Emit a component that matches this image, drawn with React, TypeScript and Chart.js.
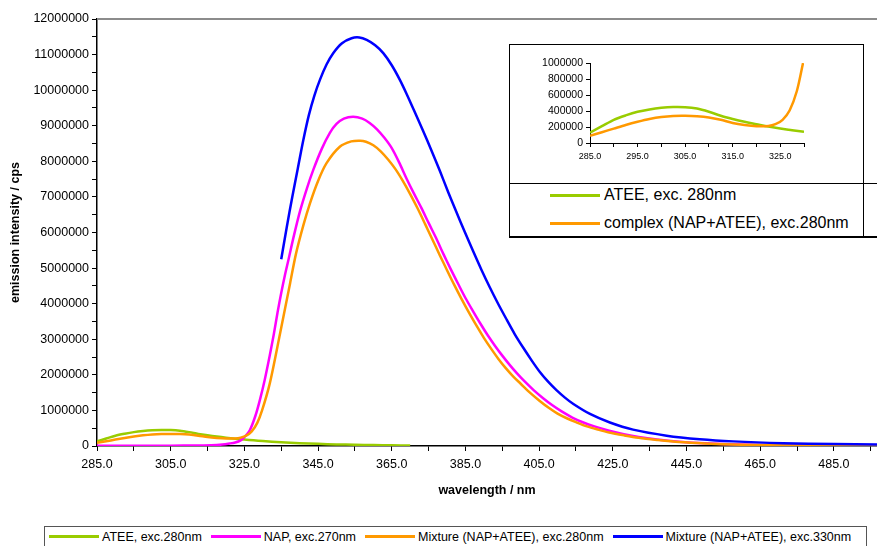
import React, { useEffect, useRef } from "react";
import { Chart, registerables } from "chart.js";

Chart.register(...registerables);

const FONT = "'Liberation Sans', Arial, Helvetica, sans-serif";

// ---- data ----
const seriesLabels = [
  "ATEE, exc.280nm",
  "NAP, exc.270nm",
  "Mixture (NAP+ATEE), exc.280nm",
  "Mixture (NAP+ATEE), exc.330nm",
];
const seriesColors = ["#99CC00", "#FF00FF", "#FF9900", "#0000FF"];

const insetLabels = ["ATEE, exc. 280nm", "complex (NAP+ATEE), exc.280nm"];

const ateeWavelength = [285, 287.5, 290, 292.5, 295, 297.5, 300, 302.5, 305, 307.5, 310, 312.5, 315, 317.5, 320, 322.5, 325, 327.5, 330, 335, 340, 345, 350, 355, 360, 365, 370];
const ateeIntensity = [130000, 210000, 290000, 345000, 390000, 420000, 440000, 450000, 448000, 430000, 390000, 340000, 300000, 265000, 235000, 205000, 180000, 160000, 140000, 105000, 80000, 60000, 45000, 35000, 25000, 18000, 12000];

const napWavelength = [285, 295, 305, 312, 316, 319, 321, 322.5, 324, 325, 326.5, 328, 329.2, 330.5, 331.9, 333, 334, 335, 336, 337, 338.3, 340.1, 342, 343.7, 346, 348.2, 350, 352, 354.5, 357, 359, 361, 363, 365, 367, 369, 371, 373, 375, 377, 379, 381, 383, 385, 387, 389, 391, 393, 395, 397, 399, 401, 403.5, 406, 408.5, 411, 414, 417, 420, 424, 428, 432, 437, 443, 450, 460, 470, 480, 490, 496.7];
const napIntensity = [10000, 10000, 10000, 15000, 20000, 40000, 70000, 100000, 160000, 250000, 450000, 850000, 1290000, 1850000, 2550000, 3150000, 3750000, 4300000, 4800000, 5250000, 5850000, 6600000, 7250000, 7760000, 8350000, 8800000, 9050000, 9200000, 9250000, 9200000, 9080000, 8900000, 8660000, 8370000, 7970000, 7520000, 7100000, 6700000, 6270000, 5850000, 5400000, 4970000, 4560000, 4160000, 3800000, 3450000, 3120000, 2820000, 2540000, 2280000, 2040000, 1820000, 1570000, 1350000, 1150000, 980000, 800000, 660000, 550000, 430000, 330000, 250000, 180000, 120000, 75000, 40000, 25000, 15000, 10000, 8000];

const mix280Wavelength = [285, 287.5, 290, 292.5, 295, 297.5, 300, 302.5, 305, 307.5, 310, 312.5, 315, 317.5, 320, 322.5, 324, 325.5, 327, 328.5, 329.8, 331.9, 334.7, 337.4, 339, 341, 342.8, 345, 347.3, 350.9, 354, 356.4, 358, 360, 362, 364, 366, 368, 370, 372, 374, 376, 378, 380, 382, 384, 386, 388, 390, 392, 394, 396, 398, 400, 402.5, 405, 407.5, 410, 412.5, 415, 418, 421, 424, 428, 432, 437, 443, 450, 460, 470, 480, 490, 496.7];
const mix280Intensity = [90000, 135000, 180000, 225000, 265000, 300000, 325000, 338000, 340000, 335000, 320000, 290000, 250000, 225000, 210000, 212000, 235000, 290000, 410000, 650000, 1000000, 1760000, 3170000, 4570000, 5400000, 6200000, 6820000, 7450000, 7950000, 8410000, 8560000, 8580000, 8550000, 8450000, 8280000, 8050000, 7780000, 7450000, 7080000, 6680000, 6250000, 5810000, 5370000, 4940000, 4520000, 4120000, 3740000, 3380000, 3040000, 2730000, 2440000, 2180000, 1950000, 1750000, 1500000, 1280000, 1080000, 910000, 780000, 670000, 550000, 460000, 380000, 300000, 230000, 170000, 110000, 70000, 35000, 20000, 12000, 8000, 5000];

const mix330Wavelength = [335, 336.5, 338, 339.5, 341, 342.5, 344, 345.5, 347.3, 349.1, 351.5, 354.1, 356.2, 358.2, 360.5, 362.7, 365, 367.2, 369.1, 371, 373.4, 375.8, 378.1, 380.3, 382.6, 384.8, 387.1, 389.3, 391.6, 393.9, 396.2, 398.4, 400.7, 403, 405.2, 407.5, 409.7, 412, 414.3, 418.8, 424.2, 430.5, 439.6, 448.6, 457.7, 471.2, 485, 496.7];
const mix330Intensity = [5250000, 6150000, 7000000, 7800000, 8600000, 9300000, 9850000, 10290000, 10720000, 11040000, 11320000, 11460000, 11480000, 11410000, 11260000, 11040000, 10700000, 10290000, 9880000, 9440000, 8880000, 8300000, 7720000, 7140000, 6560000, 6020000, 5470000, 4960000, 4460000, 3990000, 3550000, 3140000, 2760000, 2400000, 2080000, 1800000, 1570000, 1360000, 1180000, 900000, 660000, 460000, 290000, 190000, 130000, 80000, 55000, 40000];

const xMin = 285;
const xMax = 496.7;
const xTickValues = [285, 295, 305, 315, 325, 335, 345, 355, 365, 375, 385, 395, 405, 415, 425, 435, 445, 455, 465, 475, 485, 495];
const yTickValues = [0, 500000, 1000000, 1500000, 2000000, 2500000, 3000000, 3500000, 4000000, 4500000, 5000000, 5500000, 6000000, 6500000, 7000000, 7500000, 8000000, 8500000, 9000000, 9500000, 10000000, 10500000, 11000000, 11500000, 12000000];

const insetXMax = 330;
const insetXTickValues = [285, 290, 295, 300, 305, 310, 315, 320, 325, 330];
const insetYTickValues = [0, 200000, 400000, 600000, 800000, 1000000];

const toPoints = (xs: number[], ys: number[], maxX = Infinity) =>
  xs.map((x, i) => ({ x, y: ys[i] })).filter((p) => p.x <= maxX);

const seriesData = [
  toPoints(ateeWavelength, ateeIntensity),
  toPoints(napWavelength, napIntensity),
  toPoints(mix280Wavelength, mix280Intensity),
  toPoints(mix330Wavelength, mix330Intensity),
];

export default function App() {
  const mainRef = useRef<HTMLCanvasElement | null>(null);
  const insetRef = useRef<HTMLCanvasElement | null>(null);

  useEffect(() => {
    Chart.defaults.font.family = FONT;
    Chart.defaults.color = "#000";

    const topBorder = {
      id: "topBorder",
      afterDraw(chart: any) {
        const { ctx, chartArea } = chart;
        ctx.save();
        ctx.strokeStyle = "#8c8c8c";
        ctx.lineWidth = 2;
        ctx.beginPath();
        ctx.moveTo(chartArea.left, chartArea.top);
        ctx.lineTo(chartArea.right, chartArea.top);
        ctx.stroke();
        ctx.restore();
      },
    };

    const main = new Chart(mainRef.current as HTMLCanvasElement, {
      type: "line",
      data: {
        datasets: seriesData.map((d, i) => ({
          label: seriesLabels[i],
          data: d,
          borderColor: seriesColors[i],
          backgroundColor: seriesColors[i],
          borderWidth: 2.5,
          pointRadius: 0,
          fill: false,
          tension: 0.3,
          order: 4 - i,
        })),
      },
      options: {
        responsive: false,
        animation: false,
        layout: { padding: { top: 19, right: 0, left: 0, bottom: 0 } },
        plugins: { legend: { display: false }, tooltip: { enabled: false } },
        scales: {
          x: {
            type: "linear",
            min: xMin,
            max: xMax,
            afterBuildTicks: (s: any) => {
              s.ticks = xTickValues.map((v) => ({ value: v }));
            },
            afterFit: (s: any) => {
              s.height = 100;
            },
            ticks: {
              autoSkip: false,
              maxRotation: 0,
              padding: 6,
              font: { size: 12.5 },
              color: "#000",
              callback: (v: any) => ((Number(v) - 285) % 20 === 0 ? Number(v).toFixed(1) : ""),
            },
            grid: { drawOnChartArea: false, drawTicks: true, tickLength: 5, color: "#000", tickWidth: 1 },
            border: { display: true, color: "#000", width: 1.5 },
            title: {
              display: true,
              text: "wavelength / nm",
              font: { size: 12.5, weight: "bold" },
              color: "#000",
              padding: { top: 0, bottom: 48 },
            },
          },
          y: {
            type: "linear",
            min: 0,
            max: 12000000,
            afterBuildTicks: (s: any) => {
              s.ticks = yTickValues.map((v) => ({ value: v }));
            },
            afterFit: (s: any) => {
              s.width = 97;
            },
            ticks: {
              autoSkip: false,
              padding: 3,
              font: { size: 12.5 },
              color: "#000",
              callback: (v: any) => (Number(v) % 1000000 === 0 ? String(v) : ""),
            },
            grid: { drawOnChartArea: false, drawTicks: true, tickLength: 5, color: "#000", tickWidth: 1 },
            border: { display: true, color: "#000", width: 1.5 },
            title: {
              display: true,
              text: "emission intensity / cps",
              font: { size: 12.5, weight: "bold" },
              color: "#000",
              padding: { top: 8, bottom: 0 },
            },
          },
        },
      },
      plugins: [topBorder],
    } as any);

    const insetSeries = [0, 2];
    const inset = new Chart(insetRef.current as HTMLCanvasElement, {
      type: "line",
      data: {
        datasets: insetSeries.map((si, k) => ({
          label: insetLabels[k],
          data: toPoints(
            si === 0 ? ateeWavelength : mix280Wavelength,
            si === 0 ? ateeIntensity : mix280Intensity,
            insetXMax
          ),
          borderColor: seriesColors[si],
          borderWidth: 2.5,
          pointRadius: 0,
          fill: false,
          tension: 0.3,
          order: 2 - k,
        })),
      },
      options: {
        responsive: false,
        animation: false,
        layout: { padding: { top: 19, right: 59, left: 0, bottom: 0 } },
        plugins: { legend: { display: false }, tooltip: { enabled: false } },
        scales: {
          x: {
            type: "linear",
            min: 285,
            max: insetXMax,
            afterBuildTicks: (s: any) => {
              s.ticks = insetXTickValues.map((v) => ({ value: v }));
            },
            afterFit: (s: any) => {
              s.height = 40;
            },
            ticks: {
              autoSkip: false,
              maxRotation: 0,
              padding: 4,
              font: { size: 9 },
              color: "#000",
              callback: (v: any) => ((Number(v) - 285) % 10 === 0 && Number(v) < 330 ? Number(v).toFixed(1) : ""),
            },
            grid: { drawOnChartArea: false, drawTicks: true, tickLength: 4, color: "#000", tickWidth: 1 },
            border: { display: true, color: "#000", width: 1 },
          },
          y: {
            type: "linear",
            min: 0,
            max: 1000000,
            afterBuildTicks: (s: any) => {
              s.ticks = insetYTickValues.map((v) => ({ value: v }));
            },
            afterFit: (s: any) => {
              s.width = 81;
            },
            ticks: {
              autoSkip: false,
              padding: 3,
              font: { size: 10.5 },
              color: "#000",
              callback: (v: any) => String(v),
            },
            grid: { drawOnChartArea: false, drawTicks: true, tickLength: 4, color: "#000", tickWidth: 1 },
            border: { display: true, color: "#000", width: 1 },
          },
        },
      },
    } as any);

    return () => {
      main.destroy();
      inset.destroy();
    };
  }, []);

  const abs = (s: React.CSSProperties): React.CSSProperties => ({ position: "absolute", ...s });

  return (
    <div style={abs({ left: 0, top: 0, width: 877, height: 546, overflow: "hidden", background: "#fff", fontFamily: FONT })}>
      <canvas ref={mainRef} width={877} height={546} style={abs({ left: 0, top: 0, width: 877, height: 546 })} />

      {/* inset box */}
      <div style={abs({ left: 509, top: 44, width: 355, height: 194, boxSizing: "border-box", border: "1px solid #000", background: "#fff" })} />
      <canvas ref={insetRef} width={354} height={139} style={abs({ left: 509, top: 44, width: 354, height: 139 })} />
      <div style={abs({ left: 509, top: 183, width: 368, height: 1, background: "#000" })} />
      <div style={abs({ left: 509, top: 236, width: 368, height: 2, background: "#000" })} />
      {insetLabels.map((lab, k) => (
        <div key={lab} style={abs({ left: 550, top: 185 + k * 28, height: 20, display: "flex", alignItems: "center", whiteSpace: "nowrap" })}>
          <span style={{ display: "inline-block", width: 50, height: 3, background: seriesColors[k === 0 ? 0 : 2], marginRight: 4 }} />
          <span style={{ fontSize: 16, color: "#000" }}>{lab}</span>
        </div>
      ))}

      {/* main legend */}
      <div style={abs({ left: 44, top: 526, width: 823, height: 40, boxSizing: "border-box", border: "1px solid #555", background: "#fff" })}>
        <div style={{ display: "flex", alignItems: "center", height: 19, paddingLeft: 4, whiteSpace: "nowrap" }}>
          {seriesLabels.map((lab, i) => (
            <div key={lab} style={{ display: "flex", alignItems: "center", marginRight: 9 }}>
              <span style={{ display: "inline-block", width: 50, height: 3, background: seriesColors[i], marginRight: 3 }} />
              <span style={{ fontSize: 12.5, color: "#000" }}>{lab}</span>
            </div>
          ))}
        </div>
      </div>
    </div>
  );
}
